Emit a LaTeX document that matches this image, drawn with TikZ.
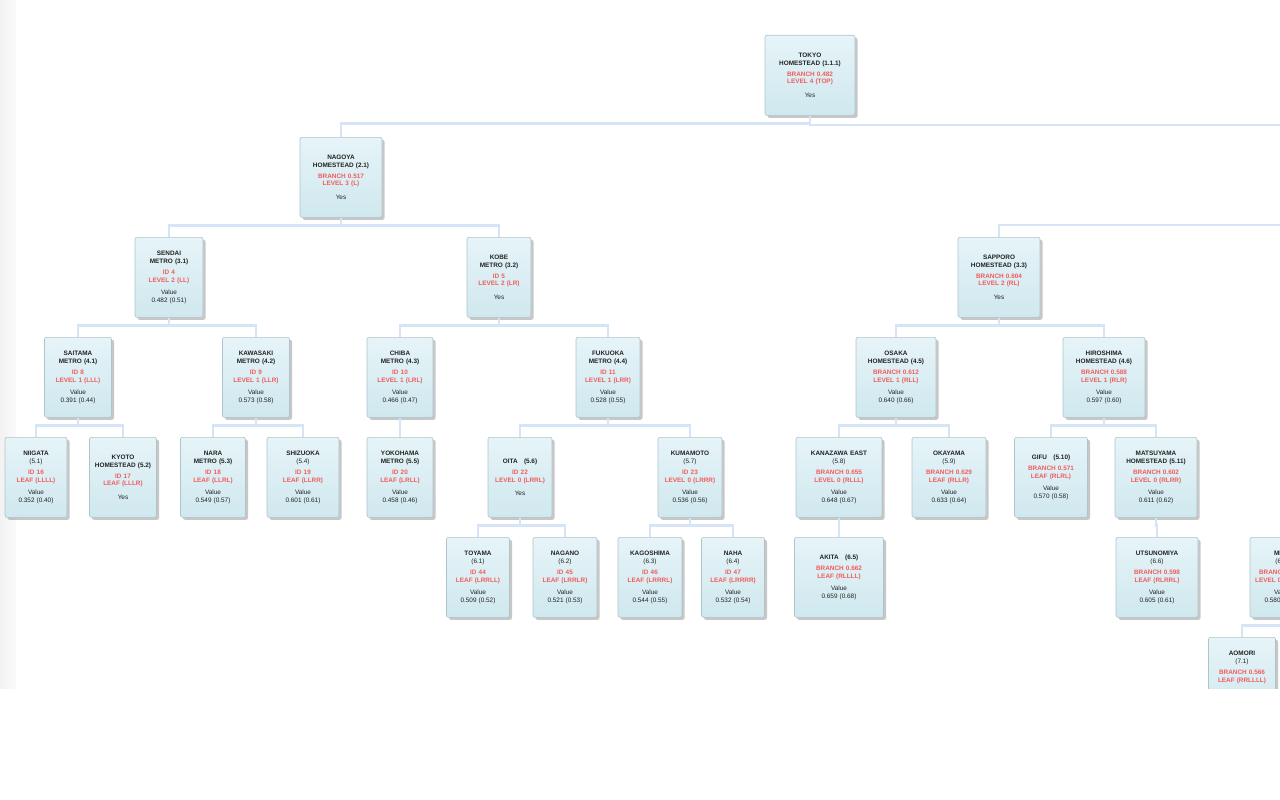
\documentclass[tikz,border=0pt]{standalone}
\usepackage{fontspec}
\setmainfont{Liberation Sans}
\usetikzlibrary{shadows,calc}
\definecolor{conn}{HTML}{D6E4F8}
\definecolor{boxtop}{HTML}{E6F4F8}
\definecolor{boxbot}{HTML}{CFE8EE}
\definecolor{boxline}{HTML}{AFC3CA}
\definecolor{redtxt}{HTML}{F25C5C}
\definecolor{txt}{HTML}{222222}
\tikzset{
  tbox/.style={draw=boxline, line width=0.6pt, rounded corners=2pt,
    top color=boxtop, bottom color=boxbot,
    drop shadow={shadow xshift=2.5pt,shadow yshift=-2.5pt,fill=black!40,opacity=0.55},
    anchor=north, minimum height=80pt, inner sep=1pt, align=center, text=txt,
    font=\fontsize{6.4}{7.9}\selectfont},
  link/.style={draw=conn, line width=2.5pt},
}
\newcommand{\hd}[1]{{\bfseries #1}}
\newcommand{\rd}[1]{\textcolor{redtxt}{\bfseries #1}}
\newcommand{\tlink}[2]{\draw[link] (#1.south) -- ($(#1.south)+(0,8)$) -| (#2.north);}
\begin{document}
\begin{tikzpicture}[x=1pt,y=-1pt]
\useasboundingbox (0,0) rectangle (1280,800);
\clip (0,0) rectangle (1280,800);
\fill[left color=black!5, right color=black!2] (0,0) rectangle (16,688);

% off-screen anchors
\coordinate (r1) at (1560,217);
\coordinate (r5) at (1420,517);

% connectors first (behind boxes)
\coordinate (c0) at (810,117);
\coordinate (c1) at (341,217);
\draw[link] (c0) -- (810,125) -| (r1 |- 0,137);

% level 0
\node[tbox, minimum width=90pt, text width=86pt] (root) at (810,35)
 {\hd{TOKYO}\\ \hd{HOMESTEAD (1.1.1)}\\[3pt] \rd{BRANCH 0.482}\\ \rd{LEVEL 4 (TOP)}\\[6pt] Yes};
% level 1
\node[tbox, minimum width=82pt, text width=78pt] (n1) at (341,137)
 {\hd{NAGOYA}\\ \hd{HOMESTEAD (2.1)}\\[3pt] \rd{BRANCH 0.517}\\ \rd{LEVEL 3 (L)}\\[6pt] Yes};
% level 2
\node[tbox, minimum width=68pt, text width=64pt] (n2a) at (169,237)
 {\hd{SENDAI}\\ \hd{METRO (3.1)}\\[3pt] \rd{ID 4}\\ \rd{LEVEL 2 (LL)}\\[4pt] Value\\ 0.482 (0.51)};
\node[tbox, minimum width=64pt, text width=60pt] (n2b) at (499,237)
 {\hd{KOBE}\\ \hd{METRO (3.2)}\\[3pt] \rd{ID 5}\\ \rd{LEVEL 2 (LR)}\\[6pt] Yes};
\node[tbox, minimum width=82pt, text width=78pt] (n2c) at (999,237)
 {\hd{SAPPORO}\\ \hd{HOMESTEAD (3.3)}\\[3pt] \rd{BRANCH 0.604}\\ \rd{LEVEL 2 (RL)}\\[6pt] Yes};
% level 3
\node[tbox, minimum width=67pt, text width=63pt] (n3a) at (78,337)
 {\hd{SAITAMA}\\ \hd{METRO (4.1)}\\[3pt] \rd{ID 8}\\ \rd{LEVEL 1 (LLL)}\\[4pt] Value\\ 0.391 (0.44)};
\node[tbox, minimum width=67pt, text width=63pt] (n3b) at (256,337)
 {\hd{KAWASAKI}\\ \hd{METRO (4.2)}\\[3pt] \rd{ID 9}\\ \rd{LEVEL 1 (LLR)}\\[4pt] Value\\ 0.573 (0.58)};
\node[tbox, minimum width=66pt, text width=62pt] (n3c) at (400,337)
 {\hd{CHIBA}\\ \hd{METRO (4.3)}\\[3pt] \rd{ID 10}\\ \rd{LEVEL 1 (LRL)}\\[4pt] Value\\ 0.466 (0.47)};
\node[tbox, minimum width=64pt, text width=60pt] (n3d) at (608,337)
 {\hd{FUKUOKA}\\ \hd{METRO (4.4)}\\[3pt] \rd{ID 11}\\ \rd{LEVEL 1 (LRR)}\\[4pt] Value\\ 0.528 (0.55)};
\node[tbox, minimum width=80pt, text width=76pt] (n3e) at (896,337)
 {\hd{OSAKA}\\ \hd{HOMESTEAD (4.5)}\\[3pt] \rd{BRANCH 0.612}\\ \rd{LEVEL 1 (RLL)}\\[4pt] Value\\ 0.640 (0.66)};
\node[tbox, minimum width=82pt, text width=78pt] (n3f) at (1104,337)
 {\hd{HIROSHIMA}\\ \hd{HOMESTEAD (4.6)}\\[3pt] \rd{BRANCH 0.588}\\ \rd{LEVEL 1 (RLR)}\\[4pt] Value\\ 0.597 (0.60)};
% level 4
\node[tbox, minimum width=62pt, text width=58pt] (n4a) at (36,437)
 {\hd{NIIGATA}\\ (5.1)\\[3pt] \rd{ID 16}\\ \rd{LEAF (LLLL)}\\[4pt] Value\\ 0.352 (0.40)};
\node[tbox, minimum width=67pt, text width=63pt] (n4b) at (123,437)
 {\hd{KYOTO}\\ \hd{HOMESTEAD (5.2)}\\[3pt] \rd{ID 17}\\ \rd{LEAF (LLLR)}\\[6pt] Yes};
\node[tbox, minimum width=65pt, text width=61pt] (n4c) at (213,437)
 {\hd{NARA}\\ \hd{METRO (5.3)}\\[3pt] \rd{ID 18}\\ \rd{LEAF (LLRL)}\\[4pt] Value\\ 0.549 (0.57)};
\node[tbox, minimum width=72pt, text width=68pt] (n4d) at (303,437)
 {\hd{SHIZUOKA}\\ (5.4)\\[3pt] \rd{ID 19}\\ \rd{LEAF (LLRR)}\\[4pt] Value\\ 0.601 (0.61)};
\node[tbox, minimum width=66pt, text width=62pt] (n4e) at (400,437)
 {\hd{YOKOHAMA}\\ \hd{METRO (5.5)}\\[3pt] \rd{ID 20}\\ \rd{LEAF (LRLL)}\\[4pt] Value\\ 0.458 (0.46)};
\node[tbox, minimum width=64pt, text width=60pt] (n4f) at (520,437)
 {\hd{OITA\quad (5.6)}\\[3pt] \rd{ID 22}\\ \rd{LEVEL 0 (LRRL)}\\[6pt] Yes};
\node[tbox, minimum width=64pt, text width=60pt] (n4g) at (690,437)
 {\hd{KUMAMOTO}\\ (5.7)\\[3pt] \rd{ID 23}\\ \rd{LEVEL 0 (LRRR)}\\[4pt] Value\\ 0.536 (0.56)};
\node[tbox, minimum width=86pt, text width=82pt] (n4h) at (839,437)
 {\hd{KANAZAWA EAST}\\ (5.8)\\[3pt] \rd{BRANCH 0.655}\\ \rd{LEVEL 0 (RLLL)}\\[4pt] Value\\ 0.648 (0.67)};
\node[tbox, minimum width=74pt, text width=70pt] (n4i) at (949,437)
 {\hd{OKAYAMA}\\ (5.9)\\[3pt] \rd{BRANCH 0.629}\\ \rd{LEAF (RLLR)}\\[4pt] Value\\ 0.633 (0.64)};
\node[tbox, minimum width=73pt, text width=69pt] (n4j) at (1051,437)
 {\hd{GIFU\quad (5.10)}\\[3pt] \rd{BRANCH 0.571}\\ \rd{LEAF (RLRL)}\\[4pt] Value\\ 0.570 (0.58)};
\node[tbox, minimum width=82pt, text width=78pt] (n4k) at (1156,437)
 {\hd{MATSUYAMA}\\ \hd{HOMESTEAD (5.11)}\\[3pt] \rd{BRANCH 0.602}\\ \rd{LEVEL 0 (RLRR)}\\[4pt] Value\\ 0.611 (0.62)};
% level 5
\node[tbox, minimum width=63pt, text width=59pt] (n5a) at (478,537)
 {\hd{TOYAMA}\\ (6.1)\\[3pt] \rd{ID 44}\\ \rd{LEAF (LRRLL)}\\[4pt] Value\\ 0.509 (0.52)};
\node[tbox, minimum width=64pt, text width=60pt] (n5b) at (565,537)
 {\hd{NAGANO}\\ (6.2)\\[3pt] \rd{ID 45}\\ \rd{LEAF (LRRLR)}\\[4pt] Value\\ 0.521 (0.53)};
\node[tbox, minimum width=64pt, text width=60pt] (n5c) at (650,537)
 {\hd{KAGOSHIMA}\\ (6.3)\\[3pt] \rd{ID 46}\\ \rd{LEAF (LRRRL)}\\[4pt] Value\\ 0.544 (0.55)};
\node[tbox, minimum width=63pt, text width=59pt] (n5d) at (733,537)
 {\hd{NAHA}\\ (6.4)\\[3pt] \rd{ID 47}\\ \rd{LEAF (LRRRR)}\\[4pt] Value\\ 0.532 (0.54)};
\node[tbox, minimum width=89pt, text width=85pt] (n5e) at (839,537)
 {\hd{AKITA\quad (6.5)}\\[3pt] \rd{BRANCH 0.662}\\ \rd{LEAF (RLLLL)}\\[4pt] Value\\ 0.659 (0.68)};
\node[tbox, minimum width=82pt, text width=78pt] (n5f) at (1157,537)
 {\hd{UTSUNOMIYA}\\ (6.6)\\[3pt] \rd{BRANCH 0.598}\\ \rd{LEAF (RLRRL)}\\[4pt] Value\\ 0.605 (0.61)};
\node[tbox, minimum width=64pt, text width=60pt] (n5g) at (1282,537)
 {\hd{MITO}\\ (6.7)\\[3pt] \rd{BRANCH 0.574}\\ \rd{LEVEL 0 (RRLLL)}\\[4pt] Value\\ 0.580 (0.59)};
% level 6
\node[tbox, minimum width=67pt, text width=63pt] (n6a) at (1242,637)
 {\hd{AOMORI}\\ (7.1)\\[3pt] \rd{BRANCH 0.566}\\ \rd{LEAF (RRLLLL)}\\[4pt] Value\\ 0.571 (0.58)};

% connectors
\tlink{root}{n1}
\draw[link] (r1) -- ($(r1)+(0,8)$) -| (n2c.north);
\tlink{n1}{n2a}
\tlink{n1}{n2b}
\tlink{n2a}{n3a}
\tlink{n2a}{n3b}
\tlink{n2b}{n3c}
\tlink{n2b}{n3d}
\tlink{n2c}{n3e}
\tlink{n2c}{n3f}
\tlink{n3a}{n4a}
\tlink{n3a}{n4b}
\tlink{n3b}{n4c}
\tlink{n3b}{n4d}
\tlink{n3c}{n4e}
\tlink{n3d}{n4f}
\tlink{n3d}{n4g}
\tlink{n3e}{n4h}
\tlink{n3e}{n4i}
\tlink{n3f}{n4j}
\tlink{n3f}{n4k}
\tlink{n4f}{n5a}
\tlink{n4f}{n5b}
\tlink{n4g}{n5c}
\tlink{n4g}{n5d}
\tlink{n4h}{n5e}
\tlink{n4k}{n5f}
\draw[link] (r5) -- ($(r5)+(0,8)$) -| (n5g.north);
\tlink{n5g}{n6a}
\fill[white] (0,689) rectangle (1280,800);
\end{tikzpicture}
\end{document}
